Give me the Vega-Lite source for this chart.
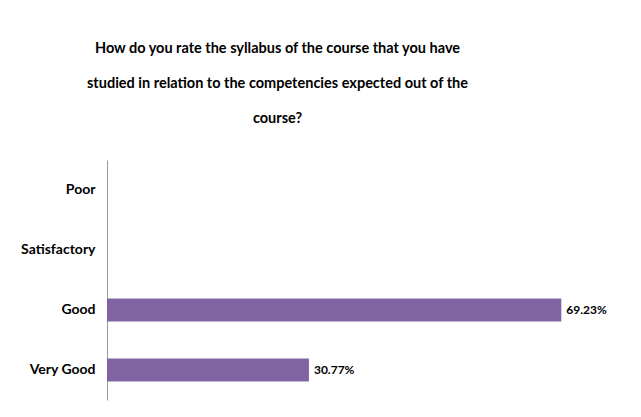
{
  "$schema": "https://vega.github.io/schema/vega-lite/v6.json",
  "autosize": "none",
  "width": 525,
  "height": 240,
  "padding": {"left": 107, "top": 160, "right": 9, "bottom": 17},
  "background": "white",
  "title": {
    "text": ["How do you rate the syllabus  of the course that you have", "studied in relation to the competencies expected out of the", "course?"],
    "font": "Lato",
    "fontSize": 14.5,
    "fontWeight": "bold",
    "color": "#000000",
    "anchor": "middle",
    "dx": -92,
    "lineHeight": 35,
    "offset": 34
  },
  "data": {
    "values": [
      {"rating": "Poor", "share": 0},
      {"rating": "Satisfactory", "share": 0},
      {"rating": "Good", "share": 0.6923},
      {"rating": "Very Good", "share": 0.3077}
    ]
  },
  "config": {"view": {"stroke": null}},
  "layer": [
    {
      "mark": {"type": "bar", "color": "#8064A2"},
      "encoding": {
        "y": {
          "field": "rating",
          "type": "nominal",
          "sort": ["Poor", "Satisfactory", "Good", "Very Good"],
          "scale": {"paddingInner": 0.62, "paddingOuter": 0.31},
          "axis": {
            "title": null,
            "ticks": false,
            "domainColor": "#999999",
            "labelFont": "Lato",
            "labelFontSize": 14,
            "labelFontWeight": "bold",
            "labelColor": "#000000",
            "labelPadding": 12
          }
        },
        "x": {
          "field": "share",
          "type": "quantitative",
          "scale": {"domain": [0, 0.8]},
          "axis": null
        }
      }
    },
    {
      "transform": [{"filter": "datum.share > 0"}],
      "mark": {
        "type": "text",
        "align": "left",
        "dx": 5,
        "font": "Lato",
        "fontSize": 12,
        "fontWeight": "bold",
        "color": "#000000"
      },
      "encoding": {
        "y": {"field": "rating", "type": "nominal", "sort": ["Poor", "Satisfactory", "Good", "Very Good"]},
        "x": {"field": "share", "type": "quantitative"},
        "text": {"field": "share", "type": "quantitative", "format": ".2%"}
      }
    }
  ]
}
